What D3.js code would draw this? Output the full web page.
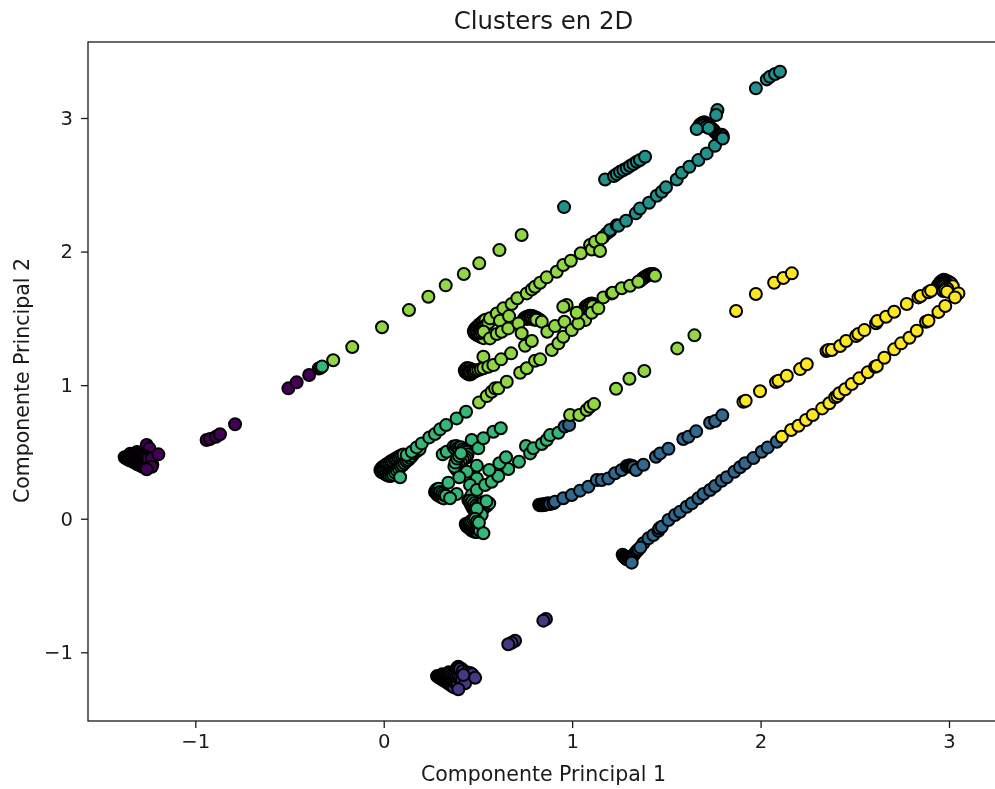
<!DOCTYPE html>
<html>
<head>
<meta charset="utf-8">
<script src="https://cdn.jsdelivr.net/npm/d3@7"></script>
<style>
  body { margin: 0; background: #fff; }
  svg { display: block; font-family: "DejaVu Sans", sans-serif; filter: blur(0.35px); }
  .tick text { font-size: 19.6px; fill: #1a1a1a; }
  .tick line { stroke: #1a1a1a; stroke-width: 1.3; }
  .frame { fill: none; stroke: #1a1a1a; stroke-width: 1.3; }
  .label { font-size: 20.5px; fill: #1a1a1a; text-anchor: middle; }
  .title { font-size: 24.4px; fill: #1a1a1a; text-anchor: middle; }
  .dot { stroke: #000; stroke-width: 2; }
</style>
</head>
<body>
<div id="chart"></div>
<script>
// values: [component 1, component 2]
// the dense clumps come before the points whose fill stays visible
var cluster0 = [
  [-0.506,0.976],[-0.462,1.021],[-0.396,1.076],[-0.345,1.125],
  [-0.940,0.589],[-0.922,0.597],[-0.890,0.614],[-0.869,0.632],[-0.789,0.707],
  [-1.258,0.552],[-1.244,0.527],
  [-1.375,0.460],[-1.368,0.452],[-1.360,0.447],[-1.352,0.440],[-1.344,0.437],[-1.335,0.430],[-1.327,0.424],[-1.318,0.420],
  [-1.310,0.410],[-1.300,0.405],[-1.292,0.398],[-1.283,0.392],[-1.275,0.387],[-1.266,0.383],
  [-1.345,0.487],[-1.337,0.480],[-1.328,0.476],[-1.320,0.470],[-1.310,0.463],[-1.300,0.460],[-1.292,0.452],[-1.283,0.447],
  [-1.274,0.440],[-1.265,0.435],[-1.255,0.428],[-1.245,0.420],[-1.236,0.413],[-1.228,0.405],
  [-1.310,0.500],[-1.300,0.490],[-1.290,0.485],[-1.280,0.475],[-1.270,0.470],[-1.260,0.460],[-1.250,0.450],
  [-1.231,0.452],[-1.231,0.389],[-1.196,0.482],[-1.258,0.370]
];
var cluster1 = [
  [0.861,-0.751],[0.847,-0.763],[0.697,-0.913],[0.679,-0.928],[0.661,-0.940],
  [0.396,-1.108],[0.414,-1.125],
  [0.283,-1.178],[0.290,-1.186],[0.297,-1.190],[0.305,-1.197],[0.312,-1.205],[0.320,-1.210],[0.328,-1.218],[0.335,-1.225],
  [0.343,-1.232],[0.350,-1.240],[0.358,-1.246],[0.365,-1.255],[0.373,-1.262],
  [0.310,-1.165],[0.318,-1.172],[0.326,-1.178],[0.334,-1.186],[0.342,-1.192],[0.350,-1.200],[0.358,-1.205],[0.366,-1.214],
  [0.375,-1.220],[0.383,-1.227],[0.392,-1.233],
  [0.345,-1.150],[0.355,-1.158],[0.365,-1.165],[0.375,-1.172],[0.385,-1.180],[0.395,-1.187],[0.405,-1.195],[0.415,-1.205],
  [0.390,-1.115],[0.398,-1.120],[0.405,-1.125],[0.420,-1.140],[0.440,-1.150],[0.458,-1.155],[0.470,-1.165],
  [0.432,-1.232],[0.423,-1.170],[0.485,-1.190],[0.396,-1.277]
];
var cluster2 = [
  [0.825,0.105],[0.830,0.100],[0.836,0.107],[0.842,0.100],[0.848,0.108],[0.854,0.103],[0.860,0.112],[0.866,0.108],[0.872,0.116],[0.878,0.112],
  [0.883,0.110],[0.900,0.115],[0.909,0.127],[0.953,0.153],[0.998,0.177],
  [1.042,0.210],[1.086,0.240],[1.131,0.290],[1.157,0.290],[1.192,0.302],[1.228,0.340],[1.263,0.365],
  [1.290,0.395],[1.298,0.390],[1.305,0.400],[1.312,0.392],[1.320,0.395],[1.325,0.385],[1.339,0.365],[1.378,0.404],[1.445,0.464],[1.467,0.489],[1.511,0.524],
  [1.590,0.597],[1.617,0.614],[1.658,0.654],[1.732,0.719],[1.759,0.731],[1.797,0.774],
  [0.960,0.690],[0.984,0.701],
  [1.378,-0.184],[1.405,-0.147],[1.431,-0.122],[1.458,-0.090],[1.463,-0.072],
  [1.476,-0.060],[1.511,-0.010],[1.546,0.028],[1.573,0.052],[1.608,0.090],[1.635,0.115],[1.670,0.153],
  [1.697,0.185],[1.732,0.215],[1.759,0.245],[1.794,0.284],[1.821,0.310],[1.861,0.352],[1.891,0.385],
  [1.918,0.415],[1.962,0.454],[2.006,0.501],[2.038,0.534],[2.086,0.576],
  [1.268,-0.270],[1.274,-0.283],[1.280,-0.290],[1.286,-0.300],[1.293,-0.305],[1.298,-0.290],[1.305,-0.300],[1.310,-0.285],
  [1.318,-0.290],[1.325,-0.275],[1.330,-0.265],[1.338,-0.250],[1.345,-0.240],[1.352,-0.230],[1.362,-0.215],
  [1.316,-0.329]
];
var cluster3 = [
  [0.957,2.333],
  [1.175,2.540],[1.222,2.565],[1.237,2.580],[1.254,2.597],[1.272,2.610],[1.290,2.623],[1.307,2.640],[1.325,2.655],
  [1.343,2.672],[1.360,2.685],[1.387,2.710],
  [1.166,2.111],[1.184,2.136],[1.201,2.153],[1.201,2.161],[1.237,2.198],[1.245,2.193],[1.286,2.231],[1.338,2.286],
  [1.360,2.323],[1.408,2.365],[1.449,2.418],[1.476,2.448],[1.498,2.481],[1.555,2.540],[1.582,2.590],[1.622,2.635],
  [1.670,2.685],[1.714,2.735],[1.758,2.792],
  [1.771,3.059],[1.764,3.022],
  [1.975,3.222],[2.033,3.289],[2.050,3.309],[2.077,3.329],[2.103,3.346],
  [1.672,2.935],[1.678,2.950],[1.686,2.958],[1.694,2.965],[1.702,2.968],[1.710,2.960],[1.718,2.955],[1.726,2.945],
  [1.734,2.930],[1.742,2.920],[1.750,2.910],[1.758,2.895],[1.766,2.885],[1.774,2.875],[1.782,2.870],[1.790,2.865],
  [1.795,2.875],[1.800,2.862],[1.700,2.945],[1.712,2.935],[1.725,2.925],
  [1.799,2.847],[1.661,2.917]
];
var cluster4 = [
  [-0.335,1.130],[-0.327,1.139],
  [-0.018,0.365],[-0.012,0.378],[-0.005,0.388],[0.003,0.395],[0.012,0.405],[0.020,0.412],[0.030,0.420],[0.038,0.430],
  [0.047,0.435],[0.057,0.445],[0.066,0.450],[0.075,0.460],[0.085,0.467],[0.095,0.475],[0.105,0.480],
  [-0.012,0.350],[-0.004,0.345],[0.005,0.338],[0.012,0.330],[0.022,0.325],[0.030,0.320],[0.040,0.322],[0.050,0.330],
  [0.060,0.345],[0.070,0.360],[0.080,0.375],[0.090,0.390],[0.100,0.400],[0.110,0.415],[0.120,0.430],[0.130,0.440],
  [0.140,0.455],[0.150,0.470],[0.160,0.490],[0.175,0.505],[0.190,0.520],
  [0.087,0.310],[0.122,0.477],[0.149,0.501],[0.175,0.534],[0.202,0.564],[0.242,0.609],[0.272,0.634],
  [0.299,0.669],[0.331,0.701],[0.387,0.751],[0.437,0.801],
  [0.272,0.200],[0.278,0.215],[0.285,0.222],[0.293,0.225],[0.280,0.188],[0.286,0.178],[0.294,0.172],[0.302,0.165],
  [0.310,0.158],[0.318,0.152],[0.300,0.200],[0.310,0.190],[0.320,0.180],[0.330,0.172],
  [0.387,0.185],[0.343,0.270],[0.352,0.153],
  [0.313,0.482],[0.334,0.501],
  [0.370,0.540],[0.378,0.525],[0.385,0.545],[0.393,0.530],[0.400,0.520],[0.410,0.535],[0.420,0.520],[0.430,0.510],
  [0.440,0.500],[0.445,0.480],[0.440,0.460],[0.430,0.450],[0.420,0.440],[0.410,0.420],[0.400,0.400],[0.390,0.385],
  [0.385,0.370],[0.375,0.390],[0.380,0.420],[0.390,0.450],[0.400,0.470],[0.410,0.490],
  [0.467,0.589],[0.502,0.527],[0.529,0.602],[0.582,0.651],[0.621,0.677],
  [0.494,0.397],[0.441,0.352],[0.401,0.310],[0.494,0.302],[0.458,0.252],
  [0.449,0.140],[0.467,0.177],[0.480,0.120],[0.494,0.215],
  [0.455,0.135],[0.460,0.115],[0.465,0.100],[0.470,0.085],[0.477,0.070],[0.485,0.060],[0.493,0.055],[0.500,0.060],
  [0.510,0.070],[0.520,0.075],[0.530,0.080],[0.540,0.090],[0.550,0.100],[0.560,0.115],[0.470,0.130],[0.480,0.115],
  [0.490,0.100],[0.500,0.090],[0.510,0.100],[0.520,0.115],[0.530,0.125],[0.545,0.130],
  [0.500,0.030],[0.505,0.045],[0.510,0.015],[0.520,0.030],[0.495,0.075],
  [0.435,-0.040],[0.440,-0.055],[0.447,-0.065],[0.455,-0.072],[0.463,-0.082],[0.470,-0.090],[0.478,-0.095],[0.487,-0.100],
  [0.495,-0.100],[0.445,-0.035],[0.453,-0.030],[0.462,-0.040],[0.470,-0.050],[0.480,-0.060],[0.490,-0.070],[0.500,-0.080],
  [0.510,-0.090],[0.465,-0.015],[0.475,-0.005],[0.485,0.000],[0.495,-0.020],[0.505,-0.030],
  [0.538,0.252],[0.573,0.277],[0.608,0.320],[0.661,0.372],[0.718,0.427],
  [0.560,0.365],[0.614,0.415],[0.649,0.460],[0.755,0.544],[0.777,0.489],[0.794,0.527],[0.839,0.559],[0.865,0.589],[0.883,0.626],[0.927,0.644],
  [0.529,-0.109]
];
var cluster5 = [
  [-0.268,1.186],[-0.167,1.285],[-0.009,1.433],[0.134,1.562],[0.237,1.662],[0.329,1.747],[0.425,1.832],[0.507,1.912],[0.614,2.011],[0.732,2.124],
  [0.478,1.405],[0.484,1.420],[0.490,1.430],[0.498,1.440],[0.506,1.452],[0.514,1.460],[0.522,1.470],[0.530,1.480],[0.540,1.490],
  [0.482,1.390],[0.490,1.380],[0.500,1.372],[0.510,1.365],[0.520,1.358],[0.530,1.352],[0.495,1.405],[0.505,1.410],[0.515,1.420],
  [0.525,1.430],[0.535,1.440],[0.545,1.450],[0.555,1.465],[0.510,1.390],[0.520,1.395],[0.530,1.400],
  [0.430,1.110],[0.436,1.122],[0.443,1.128],[0.450,1.120],[0.456,1.125],[0.434,1.098],[0.440,1.090],[0.447,1.085],[0.454,1.080],
  [0.462,1.082],[0.470,1.090],[0.460,1.105],[0.468,1.115],[0.475,1.110],[0.482,1.100],[0.490,1.110],
  [0.745,1.500],[0.752,1.505],[0.760,1.512],[0.768,1.516],[0.776,1.520],[0.784,1.518],[0.792,1.515],[0.800,1.510],[0.808,1.505],
  [0.816,1.500],[0.824,1.492],[0.832,1.485],[0.760,1.495],[0.770,1.500],[0.780,1.500],[0.790,1.495],[0.800,1.490],[0.810,1.490],
  [1.070,1.585],[1.078,1.595],[1.086,1.600],[1.094,1.608],[1.102,1.612],[1.110,1.610],[1.118,1.600],[1.124,1.590],[1.082,1.585],
  [1.090,1.590],[1.100,1.595],[1.110,1.590],
  [1.360,1.780],[1.368,1.790],[1.376,1.800],[1.384,1.808],[1.392,1.815],[1.400,1.822],[1.410,1.828],[1.418,1.832],[1.426,1.832],[1.434,1.830],
  [0.502,1.113],[0.515,1.120],[0.529,1.126],[0.529,1.213],
  [0.555,1.138],[0.582,1.150],[0.623,1.193],[0.676,1.238],
  [0.564,1.500],[0.564,1.350],[0.600,1.383],[0.600,1.537],[0.617,1.482],[0.626,1.400],[0.635,1.575],[0.661,1.425],
  [0.665,1.517],[0.679,1.607],[0.709,1.650],[0.715,1.462],[0.759,1.687],[0.786,1.717],[0.803,1.737],[0.830,1.767],[0.865,1.807],
  [0.918,1.849],[0.953,1.899],[0.993,1.931],[1.046,1.987],[1.095,2.049],[1.104,2.016],[1.122,2.073],[1.157,2.099],[1.148,2.004],
  [0.839,1.475],[0.732,1.388],[0.750,1.295],[0.786,1.330],
  [0.506,0.871],[0.547,0.918],[0.573,0.951],[0.591,0.976],[0.608,0.976],[0.653,1.026],[0.724,1.093],[0.759,1.126],[0.803,1.183],[0.830,1.193],
  [0.868,1.400],[0.892,1.263],[0.909,1.442],[0.927,1.313],[0.953,1.362],[0.959,1.475],[0.998,1.412],[1.051,1.487],[1.069,1.487],[1.033,1.462],
  [0.971,1.600],[0.953,1.587],[1.024,1.542],[1.104,1.542],[1.139,1.575],
  [1.166,1.657],[1.210,1.687],[1.215,1.692],[1.263,1.725],[1.307,1.744],[1.351,1.774],[1.440,1.819],
  [0.989,0.776],[1.038,0.776],[1.077,0.814],[1.095,0.838],[1.116,0.858],[1.233,0.973],[1.304,1.048],[1.383,1.106],[1.558,1.275],[1.649,1.373]
];
var cluster6 = [
  [1.909,0.876],[1.921,0.883],[1.997,0.954],[2.082,1.023],[2.095,1.033],[2.139,1.070],[2.210,1.120],[2.245,1.156],
  [1.870,1.555],[1.975,1.682],[2.072,1.767],[2.121,1.802],[2.166,1.837],
  [2.350,1.255],[2.360,1.263],[2.378,1.263],[2.422,1.293],[2.454,1.330],[2.507,1.368],[2.519,1.383],[2.551,1.412],[2.613,1.463],[2.620,1.480],
  [2.666,1.512],[2.709,1.549],[2.776,1.607],[2.838,1.657],[2.850,1.667],[2.891,1.695],
  [2.113,0.614],[2.162,0.664],[2.201,0.696],[2.241,0.739],[2.277,0.776],[2.327,0.826],[2.365,0.864],[2.396,0.909],[2.408,0.918],[2.418,0.939],
  [2.449,0.969],[2.484,1.008],[2.524,1.051],[2.569,1.096],[2.608,1.138],[2.617,1.143],[2.657,1.205],[2.709,1.268],[2.746,1.313],[2.790,1.355],
  [2.829,1.407],[2.878,1.475],[2.891,1.482],[2.944,1.547],[2.980,1.592],
  [2.940,1.745],[2.948,1.760],[2.955,1.772],[2.963,1.782],[2.972,1.790],[2.980,1.785],[2.988,1.780],[2.996,1.775],[3.004,1.768],[3.012,1.760],
  [2.950,1.735],[2.958,1.748],[2.966,1.760],[2.975,1.765],[2.983,1.760],[2.990,1.750],[2.998,1.745],[3.006,1.738],[3.020,1.740],
  [2.960,1.725],[2.968,1.735],[2.976,1.740],[2.984,1.730],[2.992,1.720],[2.970,1.705],[2.980,1.710],[2.990,1.700],
  [2.905,1.707],[3.050,1.687],[3.032,1.657]
];

// clusters in the order they are painted
var clusters = [cluster0, cluster1, cluster4, cluster2, cluster3, cluster5, cluster6];
var clusterColors = ["#440154", "#443983", "#35b779", "#31688e", "#21918c", "#90d743", "#fde725"];

var xTicks = [-1, 0, 1, 2, 3];
var yTicks = [-1, 0, 1, 2, 3];

var width = 995, height = 789;
var margin = {top: 42, right: -4, bottom: 68, left: 88};

var svg = d3.select("#chart").append("svg")
  .attr("width", width)
  .attr("height", height);

var x = d3.scaleLinear()
  .domain([-1, 3])
  .range([195.3, 949]);
var y = d3.scaleLinear()
  .domain([-1, 3])
  .range([652.3, 118]);

var inner = {
  left: margin.left, right: width - margin.right,
  top: margin.top, bottom: height - margin.bottom
};

svg.append("g")
  .attr("class", "axis x-axis")
  .attr("transform", "translate(0," + inner.bottom + ")")
  .call(d3.axisBottom(x).tickValues(xTicks).tickSize(7).tickPadding(6).tickFormat(d3.format("d")))
  .call(function(g) { g.select(".domain").remove(); });

svg.append("g")
  .attr("class", "axis y-axis")
  .attr("transform", "translate(" + inner.left + ",0)")
  .call(d3.axisLeft(y).tickValues(yTicks).tickSize(7).tickPadding(8).tickFormat(d3.format("d")))
  .call(function(g) { g.select(".domain").remove(); });

// no font attrs on the axes, the css ones have to win
svg.selectAll(".axis").attr("font-family", null).attr("font-size", null);

svg.append("defs").append("clipPath").attr("id", "plot-clip").append("rect")
  .attr("x", inner.left).attr("y", inner.top)
  .attr("width", inner.right - inner.left).attr("height", inner.bottom - inner.top);

var dots = svg.append("g").attr("clip-path", "url(#plot-clip)");
clusters.forEach(function(points, i) {
  dots.append("g")
    .attr("class", "cluster")
    .selectAll("circle")
    .data(points)
    .enter().append("circle")
    .attr("class", "dot")
    .attr("cx", function(d) { return x(d[0]); })
    .attr("cy", function(d) { return y(d[1]); })
    .attr("r", 6)
    .attr("fill", clusterColors[i]);
});

svg.append("rect")
  .attr("class", "frame")
  .attr("x", inner.left).attr("y", inner.top)
  .attr("width", inner.right - inner.left).attr("height", inner.bottom - inner.top);

svg.append("text").attr("class", "title")
  .attr("x", 543.5).attr("y", 29)
  .text("Clusters en 2D");

svg.append("text").attr("class", "label")
  .attr("x", 543.5).attr("y", 781)
  .text("Componente Principal 1");

svg.append("text").attr("class", "label")
  .attr("transform", "translate(29,380.5) rotate(-90)")
  .text("Componente Principal 2");
</script>
</body>
</html>
